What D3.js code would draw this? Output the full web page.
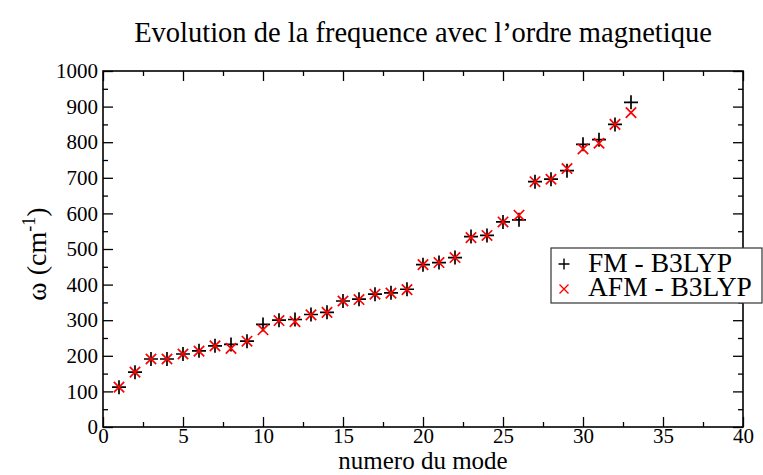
<!DOCTYPE html>
<html>
<head>
<meta charset="utf-8">
<script src="https://cdn.jsdelivr.net/npm/d3@7"></script>
<style>
  html, body { margin: 0; padding: 0; background: #fff; }
  svg { display: block; font-family: "Liberation Serif", "Times New Roman", serif; }
</style>
</head>
<body>
<svg id="chart" width="763" height="475"></svg>
<script>
// Vibrational modes and their frequencies (cm^-1)
const modes = d3.range(1, 34);
const fmB3lyp = [112, 154, 191, 191, 205, 214, 228, 232, 241, 288, 300, 302, 316, 322, 354, 359, 373, 377, 387,
                 456, 462, 476, 535, 538, 576, 582, 689, 696, 720, 794, 807, 850, 912];
const afmB3lyp = [112, 154, 191, 191, 205, 213, 228, 221, 241, 273, 299, 296, 315, 322, 354, 358, 373, 376, 386,
                  456, 462, 476, 532, 538, 576, 595, 689, 696, 726, 781, 797, 850, 883];
const xTicks = [0, 5, 10, 15, 20, 25, 30, 35, 40];
const yTicks = [0, 100, 200, 300, 400, 500, 600, 700, 800, 900, 1000];
const seriesNames = ["FM - B3LYP", "AFM - B3LYP"];

const svg = d3.select("#chart");
const plotLeft = 103, plotRight = 743, plotTop = 71, plotBottom = 427;

const x = d3.scaleLinear().domain([0, 40]).range([plotLeft, plotRight]);
const y = d3.scaleLinear().domain([0, 1000]).range([plotBottom, plotTop]);

const majorLen = 10, minorLen = 5;
const xMinor = d3.range(2.5, 40, 5);
const yMinor = d3.range(50, 1000, 100);

function styleAxis(g) {
  g.select(".domain").remove();
  g.selectAll(".tick line").attr("stroke", "#000").attr("stroke-width", 1.3);
  g.selectAll(".tick text").attr("fill", "#000").style("font-size", "21px")
    .style("font-family", "'Liberation Serif', 'Times New Roman', serif");
}

// bottom axis (labelled) and top axis, ticks pointing inward
svg.append("g").attr("transform", `translate(0,${plotBottom})`)
  .call(d3.axisBottom(x).tickValues(xTicks).tickSize(-majorLen).tickPadding(1).tickFormat(d3.format("d")))
  .call(styleAxis);
svg.append("g").attr("transform", `translate(0,${plotBottom})`)
  .call(d3.axisBottom(x).tickValues(xMinor).tickSize(-minorLen).tickFormat(""))
  .call(styleAxis);
svg.append("g").attr("transform", `translate(0,${plotTop})`)
  .call(d3.axisTop(x).tickValues(xTicks).tickSize(-majorLen).tickFormat(""))
  .call(styleAxis);
svg.append("g").attr("transform", `translate(0,${plotTop})`)
  .call(d3.axisTop(x).tickValues(xMinor).tickSize(-minorLen).tickFormat(""))
  .call(styleAxis);

// left axis (labelled) and right axis
svg.append("g").attr("transform", `translate(${plotLeft},0)`)
  .call(d3.axisLeft(y).tickValues(yTicks).tickSize(-majorLen).tickPadding(5).tickFormat(d3.format("d")))
  .call(styleAxis);
svg.append("g").attr("transform", `translate(${plotLeft},0)`)
  .call(d3.axisLeft(y).tickValues(yMinor).tickSize(-minorLen).tickFormat(""))
  .call(styleAxis);
svg.append("g").attr("transform", `translate(${plotRight},0)`)
  .call(d3.axisRight(y).tickValues(yTicks).tickSize(-majorLen).tickFormat(""))
  .call(styleAxis);
svg.append("g").attr("transform", `translate(${plotRight},0)`)
  .call(d3.axisRight(y).tickValues(yMinor).tickSize(-minorLen).tickFormat(""))
  .call(styleAxis);

// frame
svg.append("rect")
  .attr("x", plotLeft).attr("y", plotTop)
  .attr("width", plotRight - plotLeft).attr("height", plotBottom - plotTop)
  .attr("fill", "none").attr("stroke", "#000").attr("stroke-width", 1.6);

// markers
function plusPath(s) { return `M${-s},0H${s}M0,${-s}V${s}`; }
function crossPath(s) { return `M${-s},${-s}L${s},${s}M${-s},${s}L${s},${-s}`; }

svg.append("g").selectAll("path")
  .data(modes.map((m, i) => [m, fmB3lyp[i]]))
  .join("path")
  .attr("transform", d => `translate(${x(d[0])},${y(d[1])})`)
  .attr("d", plusPath(7))
  .attr("stroke", "#000").attr("stroke-width", 1.7).attr("fill", "none");

svg.append("g").selectAll("path")
  .data(modes.map((m, i) => [m, afmB3lyp[i]]))
  .join("path")
  .attr("transform", d => `translate(${x(d[0])},${y(d[1])})`)
  .attr("d", crossPath(5.2))
  .attr("stroke", "#ff0000").attr("stroke-width", 1.7).attr("fill", "none");

// title and axis labels
svg.append("text")
  .attr("x", 423).attr("y", 42)
  .attr("text-anchor", "middle")
  .style("font-size", "28.5px")
  .text("Evolution de la frequence avec l\u2019ordre magnetique");

svg.append("text")
  .attr("x", 423).attr("y", 469)
  .attr("text-anchor", "middle")
  .style("font-size", "25px")
  .text("numero du mode");

const yl = svg.append("text")
  .attr("transform", "translate(46,254) rotate(-90)")
  .attr("text-anchor", "middle")
  .style("font-size", "28px");
yl.append("tspan").text("\u03c9 (cm");
yl.append("tspan").attr("dy", -11).style("font-size", "18px").text("-1");
yl.append("tspan").attr("dy", 11).text(")");

// legend
const lg = svg.append("g");
lg.append("rect")
  .attr("x", 551).attr("y", 248).attr("width", 211).attr("height", 55)
  .attr("fill", "#fff").attr("stroke", "#333").attr("stroke-width", 1.2);
const legendMarks = [plusPath(5.5), crossPath(4.5)];
const legendColors = ["#000", "#ff0000"];
seriesNames.forEach((name, i) => {
  const cy = 264 + i * 25;
  lg.append("path")
    .attr("transform", `translate(564,${cy})`)
    .attr("d", legendMarks[i])
    .attr("stroke", legendColors[i]).attr("stroke-width", 1.4).attr("fill", "none");
  lg.append("text")
    .attr("x", 588).attr("y", 272 + i * 24)
    .style("font-size", "27.5px")
    .text(name);
});
</script>
</body>
</html>
